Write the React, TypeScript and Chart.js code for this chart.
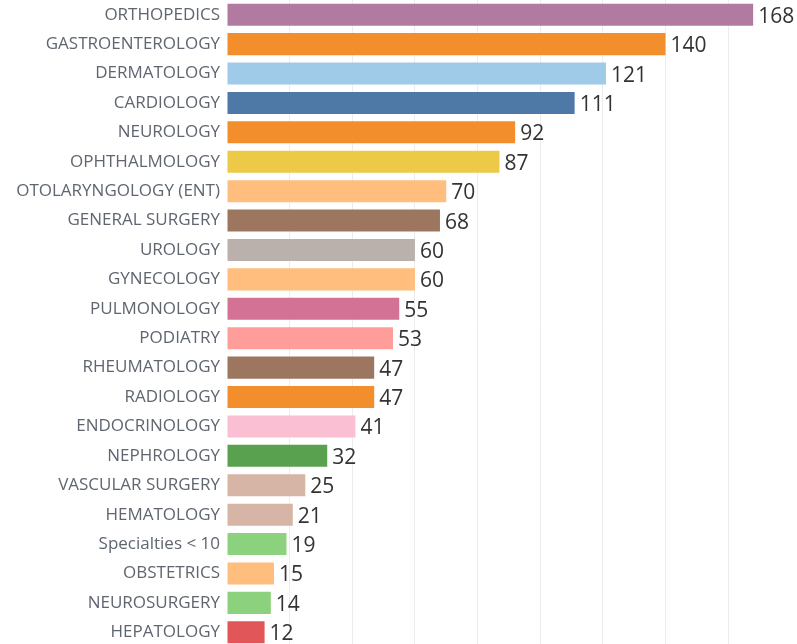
import React, { useEffect, useRef } from "react";
import { Chart, registerables } from "chart.js";

Chart.register(...registerables);

const categories = [
  "ORTHOPEDICS",
  "GASTROENTEROLOGY",
  "DERMATOLOGY",
  "CARDIOLOGY",
  "NEUROLOGY",
  "OPHTHALMOLOGY",
  "OTOLARYNGOLOGY (ENT)",
  "GENERAL SURGERY",
  "UROLOGY",
  "GYNECOLOGY",
  "PULMONOLOGY",
  "PODIATRY",
  "RHEUMATOLOGY",
  "RADIOLOGY",
  "ENDOCRINOLOGY",
  "NEPHROLOGY",
  "VASCULAR SURGERY",
  "HEMATOLOGY",
  "Specialties < 10",
  "OBSTETRICS",
  "NEUROSURGERY",
  "HEPATOLOGY",
];

const counts = [168, 140, 121, 111, 92, 87, 70, 68, 60, 60, 55, 53, 47, 47, 41, 32, 25, 21, 19, 15, 14, 12];

const barColors = [
  "#b07aa1",
  "#f28e2b",
  "#a0cbe8",
  "#4e79a7",
  "#f28e2b",
  "#edc948",
  "#ffbe7d",
  "#9d7660",
  "#bab0ac",
  "#ffbe7d",
  "#d37295",
  "#ff9d9a",
  "#9d7660",
  "#f28e2b",
  "#fabfd2",
  "#59a14f",
  "#d7b5a6",
  "#d7b5a6",
  "#8cd17d",
  "#ffbe7d",
  "#8cd17d",
  "#e15759",
];

const xMax = 182;
const gridStep = 20;

const valueLabels = {
  id: "valueLabels",
  afterDatasetsDraw(chart: any) {
    const ctx = chart.ctx;
    const meta = chart.getDatasetMeta(0);
    ctx.save();
    ctx.font = "21px 'Open Sans'";
    ctx.fillStyle = "#333333";
    ctx.textAlign = "left";
    ctx.textBaseline = "middle";
    meta.data.forEach((bar: any, i: number) => {
      ctx.fillText(String(counts[i]), bar.x + 5, bar.y + 2);
    });
    ctx.restore();
  },
};

export default function App() {
  const ref = useRef<HTMLCanvasElement | null>(null);

  useEffect(() => {
    if (!ref.current) return;
    const chart = new Chart(ref.current, {
      type: "bar",
      data: {
        labels: categories,
        datasets: [
          {
            data: counts,
            backgroundColor: barColors,
            borderWidth: 0,
            barPercentage: 0.75,
            categoryPercentage: 1,
          },
        ],
      },
      options: {
        indexAxis: "y",
        animation: false,
        responsive: false,
        maintainAspectRatio: false,
        layout: { padding: { top: 0, bottom: 0, left: 0, right: 0 } },
        plugins: {
          legend: { display: false },
          tooltip: { enabled: false },
        },
        scales: {
          x: {
            min: 0,
            max: xMax,
            ticks: { display: false, stepSize: gridStep },
            border: { display: false },
            grid: {
              drawTicks: false,
              color: (c: any) => (c.tick && c.tick.value === 0 ? "rgba(0,0,0,0)" : "#ececec"),
              lineWidth: 1,
            },
            afterFit(scale: any) {
              scale.height = 0;
              scale.paddingLeft = 0;
              scale.paddingRight = 0;
            },
          },
          y: {
            border: { display: false },
            grid: { display: false, drawTicks: false },
            ticks: {
              padding: 7,
              color: "#5f6670",
              font: { family: "'Open Sans'", size: 17 },
            },
            afterFit(scale: any) {
              scale.width = 227;
              scale.paddingTop = 0;
              scale.paddingBottom = 0;
            },
          },
        },
      },
      plugins: [valueLabels],
    });
    return () => chart.destroy();
  }, []);

  return (
    <div style={{ position: "fixed", left: 0, top: 0, width: 797, height: 647, background: "#ffffff" }}>
      <canvas ref={ref} width={797} height={647} style={{ display: "block" }} />
    </div>
  );
}
